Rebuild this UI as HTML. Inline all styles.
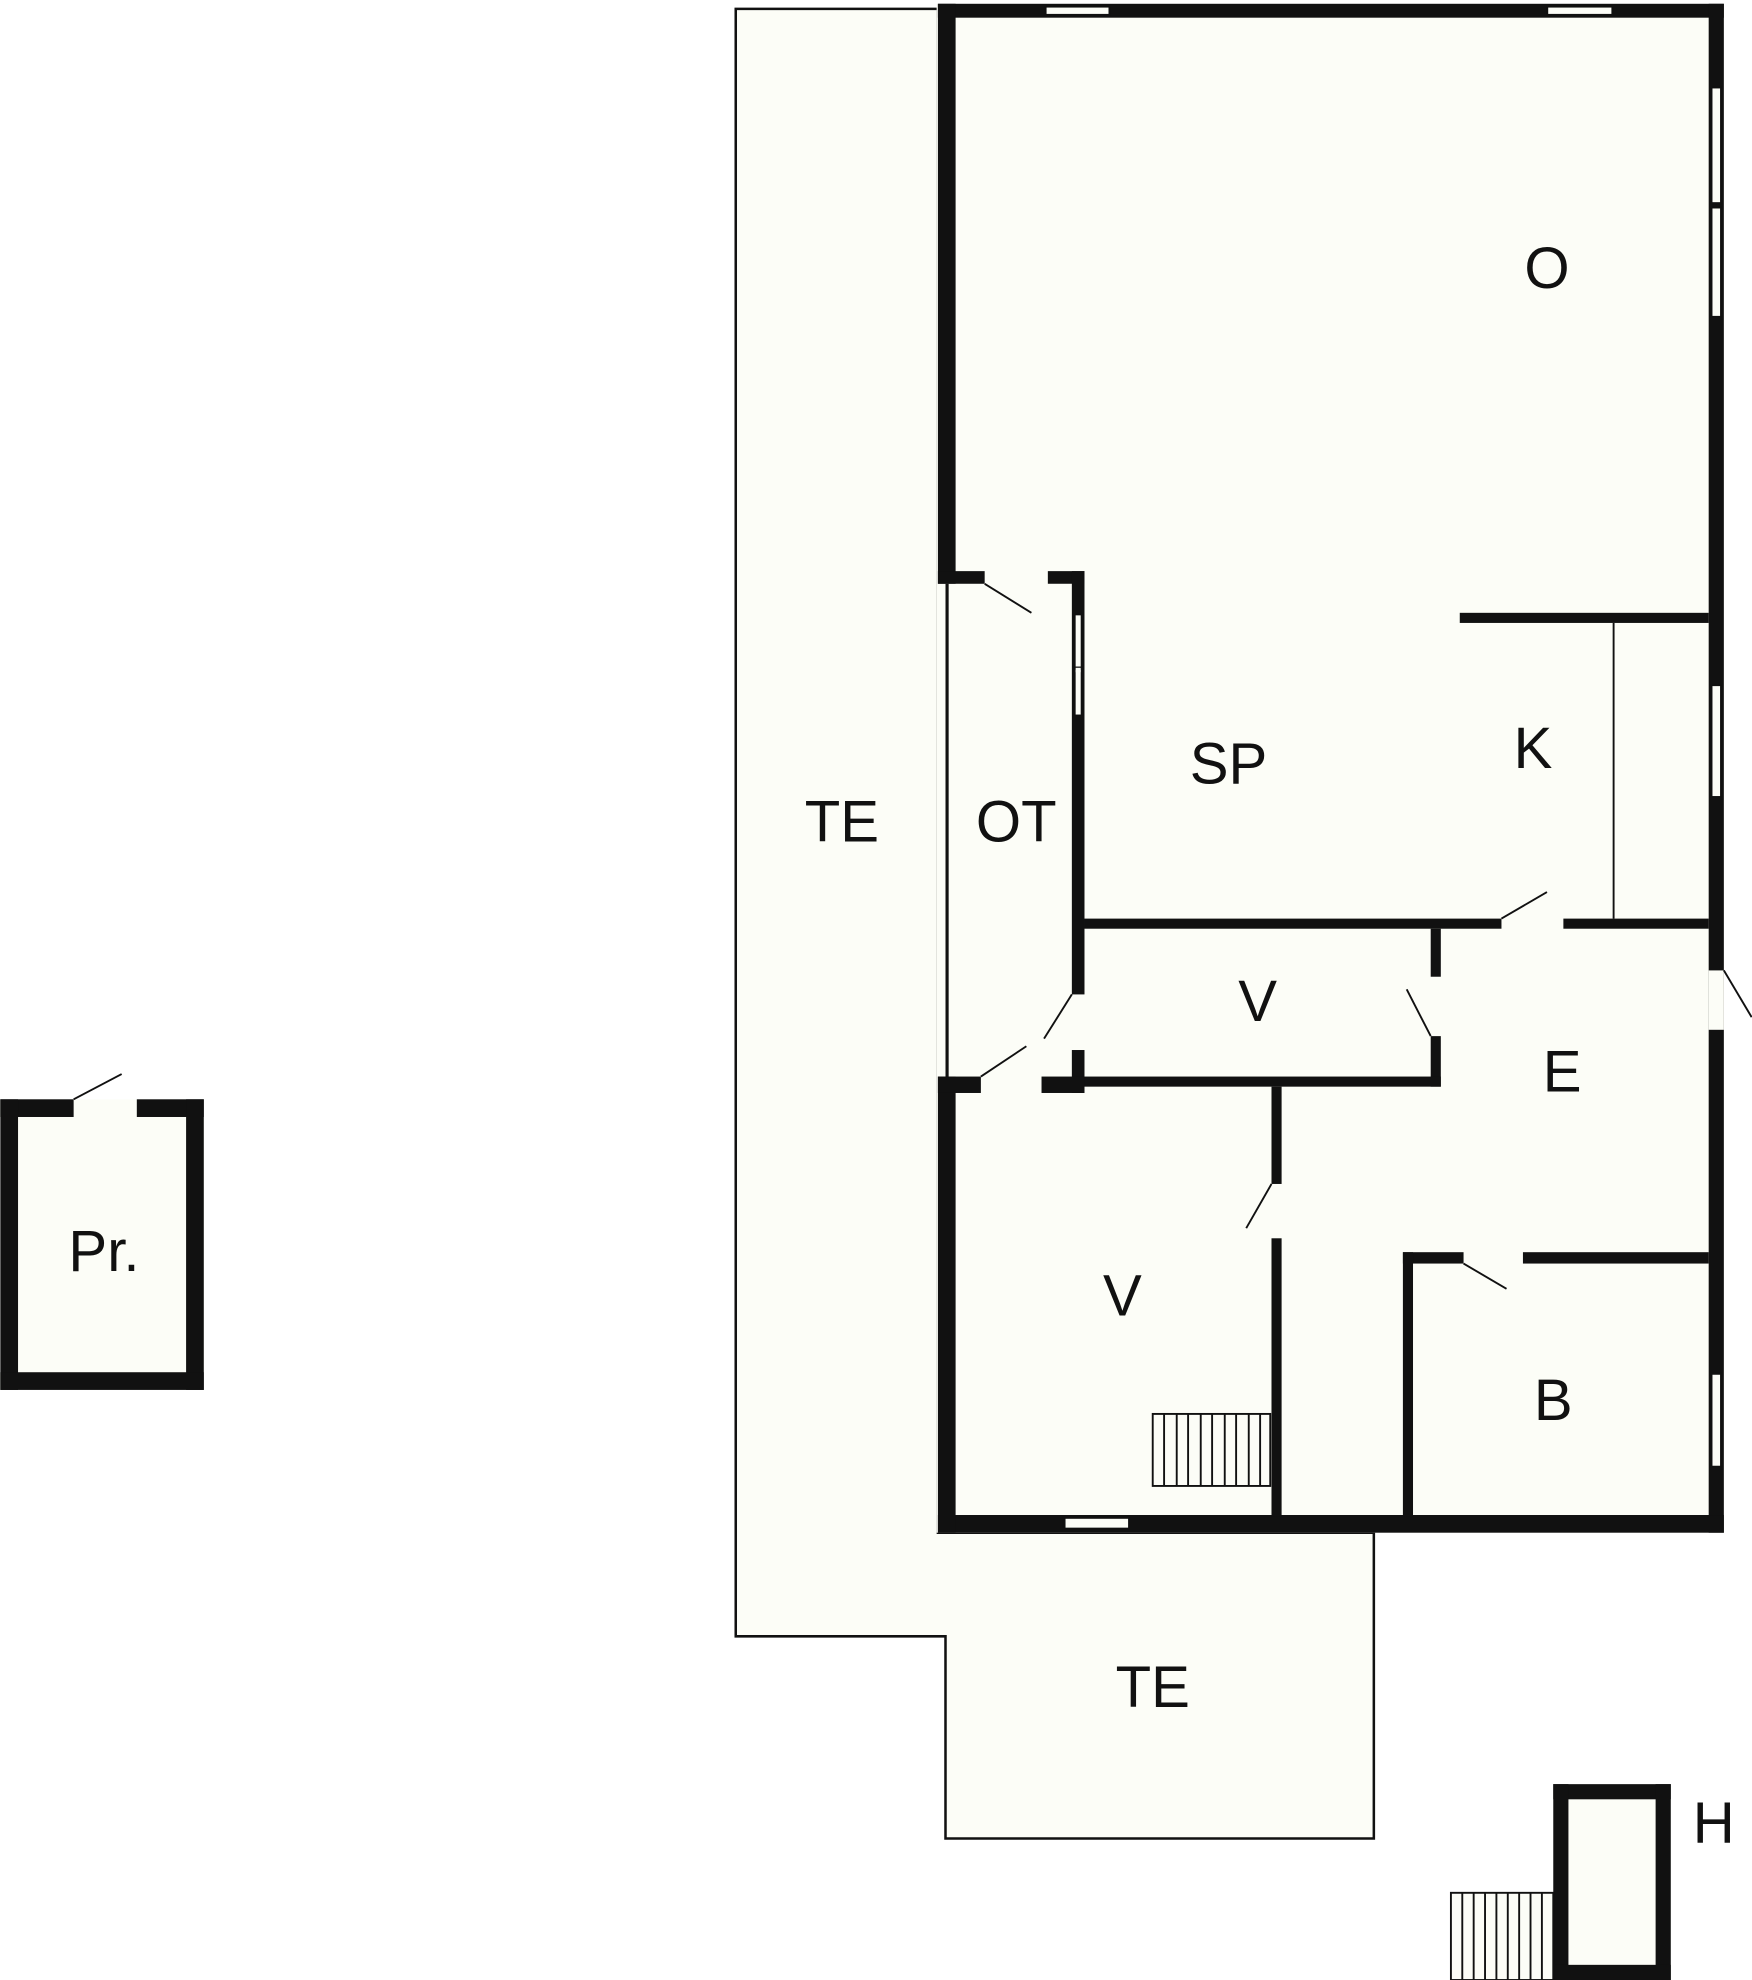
<!DOCTYPE html>
<html><head><style>html,body{margin:0;padding:0;background:#fff}svg{display:block}text{font-family:"Liberation Sans",sans-serif;fill:#111}</style></head>
<body>
<svg width="1752" height="1980" viewBox="0 0 1386 1567" xmlns="http://www.w3.org/2000/svg">
<g fill="#fcfdf7" stroke="#111" stroke-width="2">
<polygon points="582,7 742,7 742,1213 1087,1213 1087,1455 748,1455 748,1295 582,1295"/>
</g>
<rect x="741" y="3" width="623" height="1210" fill="#fcfdf7"/>
<rect x="0" y="870" width="161" height="230" fill="#fcfdf7"/>
<rect x="1229" y="1412" width="93" height="155" fill="#fcfdf7"/>
<g fill="#111">
<rect x="742" y="3" width="622" height="11"/>
<rect x="742" y="3" width="14" height="459"/>
<rect x="1352" y="3" width="12" height="1210"/>
<rect x="742" y="1199" width="622" height="14"/>
<rect x="742" y="852" width="14" height="361"/>
<rect x="742" y="452" width="37" height="10"/>
<rect x="829" y="452" width="29" height="10"/>
<rect x="848" y="452" width="10" height="335"/>
<rect x="848" y="831" width="10" height="34"/>
<rect x="742" y="852" width="34" height="13"/>
<rect x="824" y="852" width="34" height="13"/>
<rect x="748" y="462" width="2.5" height="390"/>
<rect x="858" y="727" width="330" height="8"/>
<rect x="1237" y="727" width="115" height="8"/>
<rect x="1132" y="735" width="8" height="38"/>
<rect x="1132" y="820" width="8" height="40"/>
<rect x="858" y="852" width="282" height="8"/>
<rect x="1006" y="860" width="8" height="77"/>
<rect x="1006" y="980" width="8" height="220"/>
<rect x="1110" y="991" width="48" height="9"/>
<rect x="1205" y="991" width="147" height="9"/>
<rect x="1110" y="991" width="8" height="209"/>
<rect x="1155" y="485" width="197" height="8"/>
<rect x="1276" y="493" width="1.5" height="234"/>
<rect x="0" y="870" width="58" height="14"/>
<rect x="108" y="870" width="53" height="14"/>
<rect x="0" y="870" width="14" height="230"/>
<rect x="147" y="870" width="14" height="230"/>
<rect x="0" y="1086" width="161" height="14"/>
<rect x="1229" y="1412" width="93" height="12"/>
<rect x="1229" y="1412" width="12" height="155"/>
<rect x="1310" y="1412" width="12" height="155"/>
<rect x="1229" y="1555" width="93" height="12"/>
</g>
<g fill="#fcfdf7">
<rect x="828" y="6" width="49" height="5"/>
<rect x="1225" y="6" width="50" height="5"/>
<rect x="1355" y="70" width="6" height="90"/>
<rect x="1355" y="165" width="6" height="85"/>
<rect x="1355" y="543" width="6" height="87"/>
<rect x="1355" y="1088" width="6" height="72"/>
<rect x="1352" y="768" width="12" height="47"/>
<rect x="843" y="1202" width="50" height="7"/>
<rect x="851" y="487" width="4" height="45"/>
<rect x="851" y="530" width="4" height="36"/>
</g>
<g stroke="#111" stroke-width="1" fill="none">
<rect x="841" y="1201" width="52" height="9"/>
<rect x="850" y="486" width="6" height="80"/>
<line x1="850" y1="528" x2="856" y2="528"/>
<rect x="1354" y="69" width="8" height="92"/>
<rect x="1354" y="164" width="8" height="87"/>
<rect x="1354" y="542" width="8" height="89"/>
<rect x="1354" y="1087" width="8" height="74"/>
<rect x="827" y="5" width="51" height="7"/>
<rect x="1224" y="5" width="52" height="7"/>
</g>
<g stroke="#111" stroke-width="1.5">
<line x1="779" y1="462" x2="816" y2="485"/>
<line x1="848" y1="787" x2="826" y2="822"/>
<line x1="776" y1="852" x2="812" y2="828"/>
<line x1="1188" y1="727" x2="1224" y2="706"/>
<line x1="1132" y1="820" x2="1113" y2="783"/>
<line x1="1006" y1="937" x2="986" y2="972"/>
<line x1="1158" y1="1000" x2="1192" y2="1020"/>
<line x1="1364" y1="768" x2="1386" y2="805"/>
<line x1="58" y1="870" x2="96" y2="850"/>
</g>
<g stroke="#111" stroke-width="1.5" fill="#fcfdf7">
<rect x="912" y="1119" width="93" height="57"/>
<line x1="921" y1="1119" x2="921" y2="1176"/><line x1="931" y1="1119" x2="931" y2="1176"/><line x1="940" y1="1119" x2="940" y2="1176"/><line x1="950" y1="1119" x2="950" y2="1176"/><line x1="959" y1="1119" x2="959" y2="1176"/><line x1="969" y1="1119" x2="969" y2="1176"/><line x1="978" y1="1119" x2="978" y2="1176"/><line x1="988" y1="1119" x2="988" y2="1176"/><line x1="997" y1="1119" x2="997" y2="1176"/>
<rect x="1148" y="1498" width="81" height="69"/>
<line x1="1157" y1="1498" x2="1157" y2="1567"/><line x1="1166" y1="1498" x2="1166" y2="1567"/><line x1="1175" y1="1498" x2="1175" y2="1567"/><line x1="1184" y1="1498" x2="1184" y2="1567"/><line x1="1193" y1="1498" x2="1193" y2="1567"/><line x1="1202" y1="1498" x2="1202" y2="1567"/><line x1="1211" y1="1498" x2="1211" y2="1567"/><line x1="1220" y1="1498" x2="1220" y2="1567"/>
</g>
<g font-size="46" text-anchor="middle">
<text x="1224" y="228">O</text>
<text x="972" y="620">SP</text>
<text x="1213" y="608">K</text>
<text x="666" y="666">TE</text>
<text x="804" y="666">OT</text>
<text x="995" y="808">V</text>
<text x="1236" y="864">E</text>
<text x="888" y="1041">V</text>
<text x="1229" y="1124">B</text>
<text x="912" y="1351">TE</text>
<text x="82" y="1006">Pr.</text>
<text x="1356" y="1458">H</text>
</g>
</svg>
</body></html>
